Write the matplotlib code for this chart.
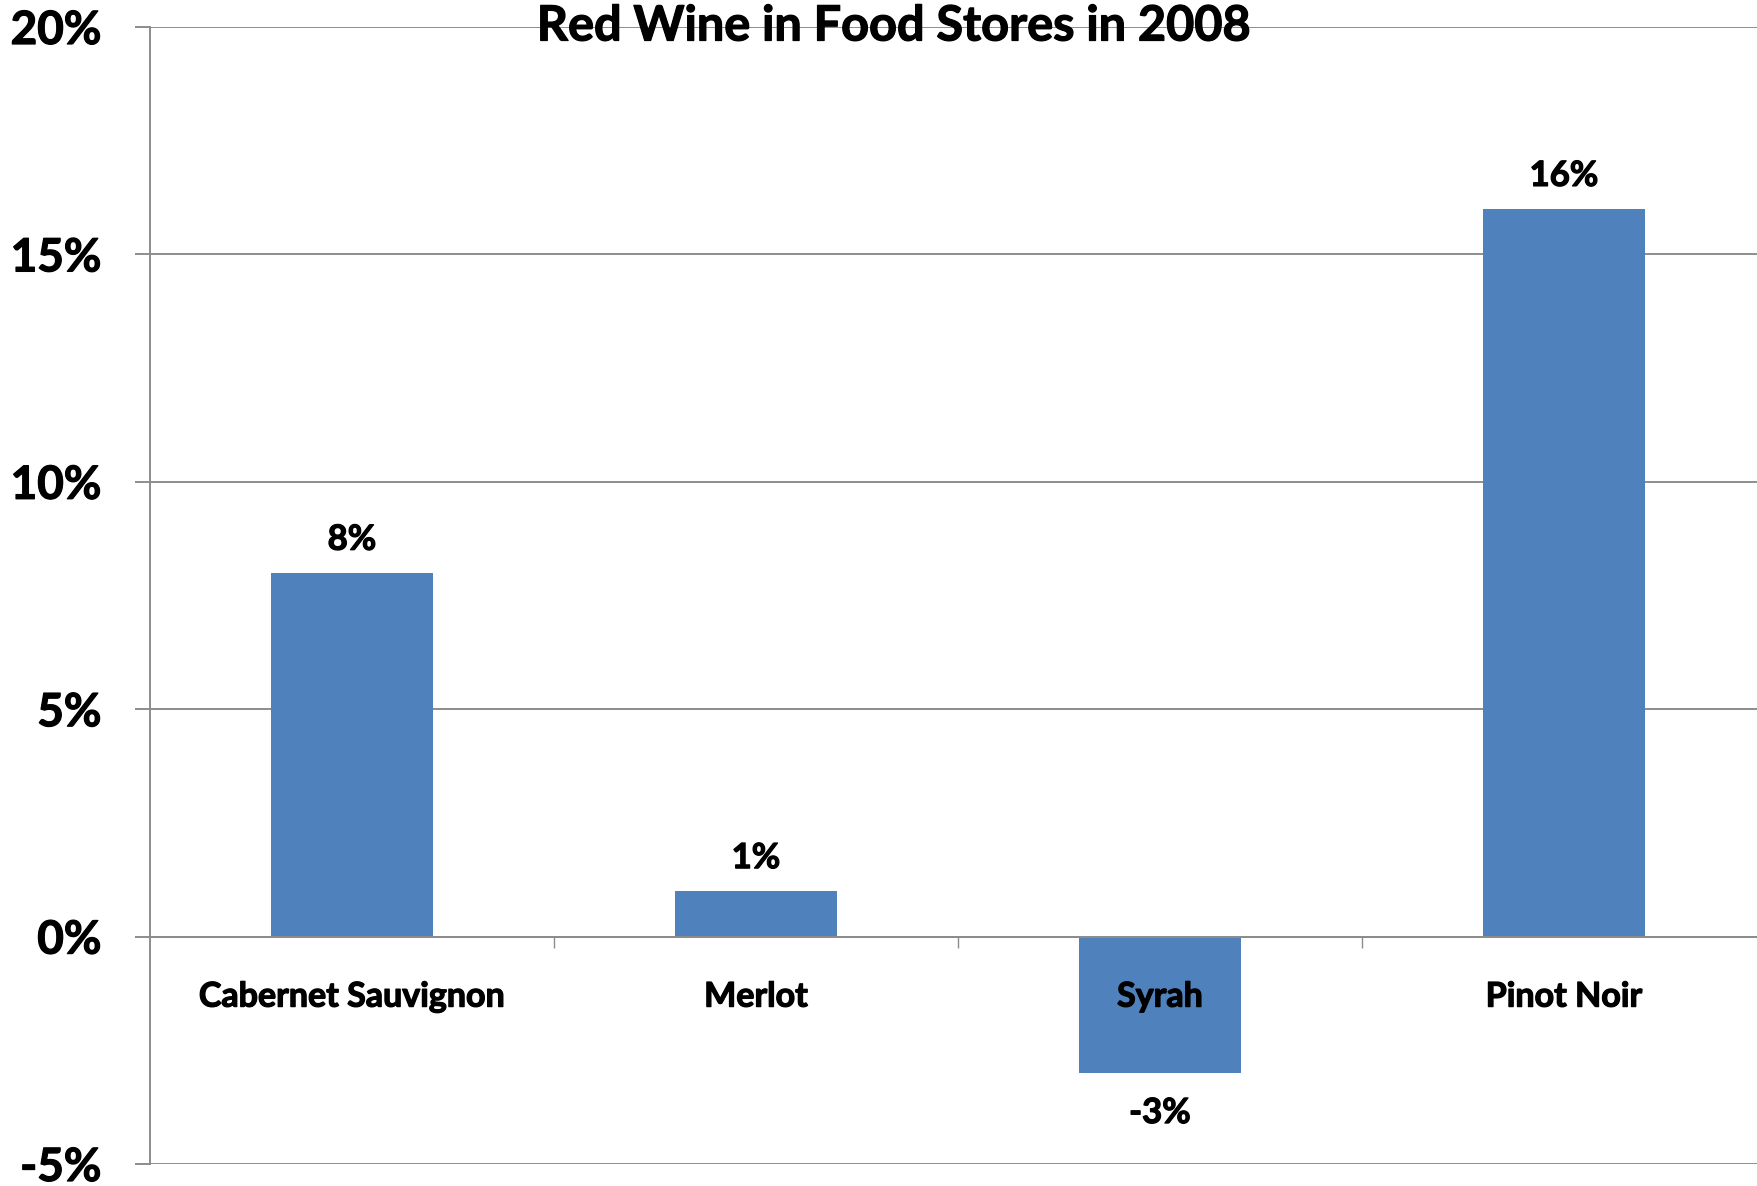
import matplotlib
matplotlib.use("Agg")
import matplotlib.pyplot as plt
import matplotlib.patheffects as pe
from matplotlib.ticker import FixedLocator

plt.rcParams['font.family'] = ['Lato', 'DejaVu Sans']

categories = ["Cabernet Sauvignon", "Merlot", "Syrah", "Pinot Noir"]
growth = [8, 1, -3, 16]
y_ticks = [-5, 0, 5, 10, 15, 20]
y_tick_labels = ["-5%", "0%", "5%", "10%", "15%", "20%"]
title = "Red Wine in Food Stores in 2008"

W, H = 1758, 1186
fig = plt.figure(figsize=(W / 100, H / 100), dpi=100)
ax = fig.add_axes([150 / W, 1 - 1164 / H, 1616 / W, (1164 - 27) / H])

grid_color = "#8c8c8c"
bar_color = "#4f81bd"
# slight outline to give the bold text a heavier weight
heavy = [pe.withStroke(linewidth=0.9, foreground="black")]

x = list(range(len(categories)))
ax.bar(x, growth, width=0.4, color=bar_color, zorder=2)

ax.set_xlim(-0.5, len(categories) - 0.5)
ax.set_ylim(y_ticks[0], y_ticks[-1])
ax.set_axisbelow(True)

# horizontal gridlines and left axis
ax.set_yticks(y_ticks)
ax.set_yticklabels(y_tick_labels, fontsize=33, fontweight="bold")
for lbl in ax.get_yticklabels():
    lbl.set_path_effects(heavy)
ax.yaxis.grid(True, color=grid_color, linewidth=1.4)
ax.tick_params(axis="y", length=11, width=1.4, color=grid_color, pad=24)

for side in ("top", "right"):
    ax.spines[side].set_visible(False)
ax.spines["left"].set_color(grid_color)
ax.spines["left"].set_linewidth(1.4)
ax.spines["bottom"].set_position(("data", 0))
ax.spines["bottom"].set_color(grid_color)
ax.spines["bottom"].set_linewidth(1.4)

# category separators on the zero line
ax.set_xticks([])
ax.xaxis.set_minor_locator(FixedLocator([i + 0.5 for i in x[:-1]]))
ax.tick_params(axis="x", which="minor", length=8, width=1.0, color=grid_color,
               direction="out")

# category names just below the zero line, drawn over the bars
for xi, name in zip(x, categories):
    ax.annotate(name, xy=(xi, 0), xytext=(0, -60), textcoords="offset pixels",
                ha="center", va="center", fontsize=24.5, fontweight="bold",
                zorder=5, annotation_clip=False, path_effects=heavy)

# value labels
for xi, v in zip(x, growth):
    off = 33 if v >= 0 else -40
    ax.annotate(f"{v}%", xy=(xi, v), xytext=(0, off), textcoords="offset pixels",
                ha="center", va="center", fontsize=25, fontweight="bold",
                zorder=5, path_effects=heavy)

fig.text(894 / W, 1 - 26 / H, title, ha="center", va="center",
         fontsize=35, fontweight="bold", path_effects=heavy)

fig.savefig("out.png", dpi=100)
